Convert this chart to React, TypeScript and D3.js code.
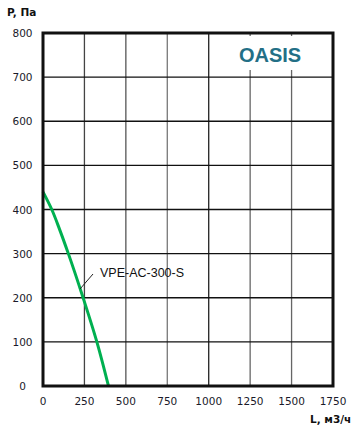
import React from "react";
import * as d3 from "d3";

const xTicks = [0, 250, 500, 750, 1000, 1250, 1500, 1750];
const yTicks = [0, 100, 200, 300, 400, 500, 600, 700, 800];
const curveL = [0, 53, 100, 153, 242, 325, 395];
const curveP = [440, 400, 355, 300, 200, 100, 0];
const seriesName = "VPE-AC-300-S";
const brand = "OASIS";
const yTitle = "P, Па";
const xTitle = "L, м3/ч";

export default function App() {
  const W = 357, H = 432;
  const left = 43, right = 333, top = 33, bottom = 386;
  const x = d3.scaleLinear().domain([0, 1750]).range([left, right]);
  const y = d3.scaleLinear().domain([0, 800]).range([bottom, top]);
  const pts = curveL.map((l, i) => [l, curveP[i]] as [number, number]);
  const line = d3
    .line<[number, number]>()
    .x((d) => x(d[0]))
    .y((d) => y(d[1]))
    .curve(d3.curveMonotoneY);
  const vColors: Record<number, string> = { 250: "#444", 500: "#555", 750: "#777", 1000: "#222", 1250: "#666", 1500: "#666" };
  const font = "'DejaVu Sans', Tahoma, sans-serif";
  return (
    <svg width={W} height={H} style={{ position: "absolute", left: 0, top: 0, background: "#fff" }}>
      {xTicks.slice(1, -1).map((t) => (
        <line key={"v" + t} x1={x(t)} x2={x(t)} y1={top} y2={bottom} stroke={vColors[t] || "#444"} strokeWidth={1.3} />
      ))}
      {yTicks.slice(1, -1).map((t) => (
        <line key={"h" + t} x1={left} x2={right} y1={y(t)} y2={y(t)} stroke="#111" strokeWidth={1.3} />
      ))}
      <rect x={239} y={36} width={92} height={34} fill="#fff" />
      <text x={270} y={62} textAnchor="middle" fontFamily="'Liberation Sans', Arial, sans-serif" fontWeight="bold" fontSize={20} fill="#236f86">
        {brand}
      </text>
      <path d={line(pts) || ""} fill="none" stroke="#00b050" strokeWidth={3} />
      <line x1={80} y1={289} x2={93} y2={274} stroke="#222" strokeWidth={1} />
      <text x={100} y={277} fontFamily="'Liberation Sans', Arial, sans-serif" fontSize={12.5} fill="#111">
        {seriesName}
      </text>
      <rect x={left} y={top} width={right - left} height={bottom - top} fill="none" stroke="#111" strokeWidth={3} />
      {yTicks.map((t) => (
        <text key={"yl" + t} x={22.5} y={y(t) + 4} textAnchor="middle" fontFamily={font} fontSize={10.5} fill="#1a1a2a">
          {t}
        </text>
      ))}
      {xTicks.map((t) => (
        <text key={"xl" + t} x={x(t)} y={405} textAnchor="middle" fontFamily={font} fontSize={10.5} fill="#1a1a2a">
          {t}
        </text>
      ))}
      <text x={7} y={16} fontFamily={font} fontWeight="bold" fontSize={10.5} fill="#111">
        {yTitle}
      </text>
      <text x={310} y={423} fontFamily={font} fontWeight="bold" fontSize={10.5} fill="#111">
        {xTitle}
      </text>
    </svg>
  );
}
